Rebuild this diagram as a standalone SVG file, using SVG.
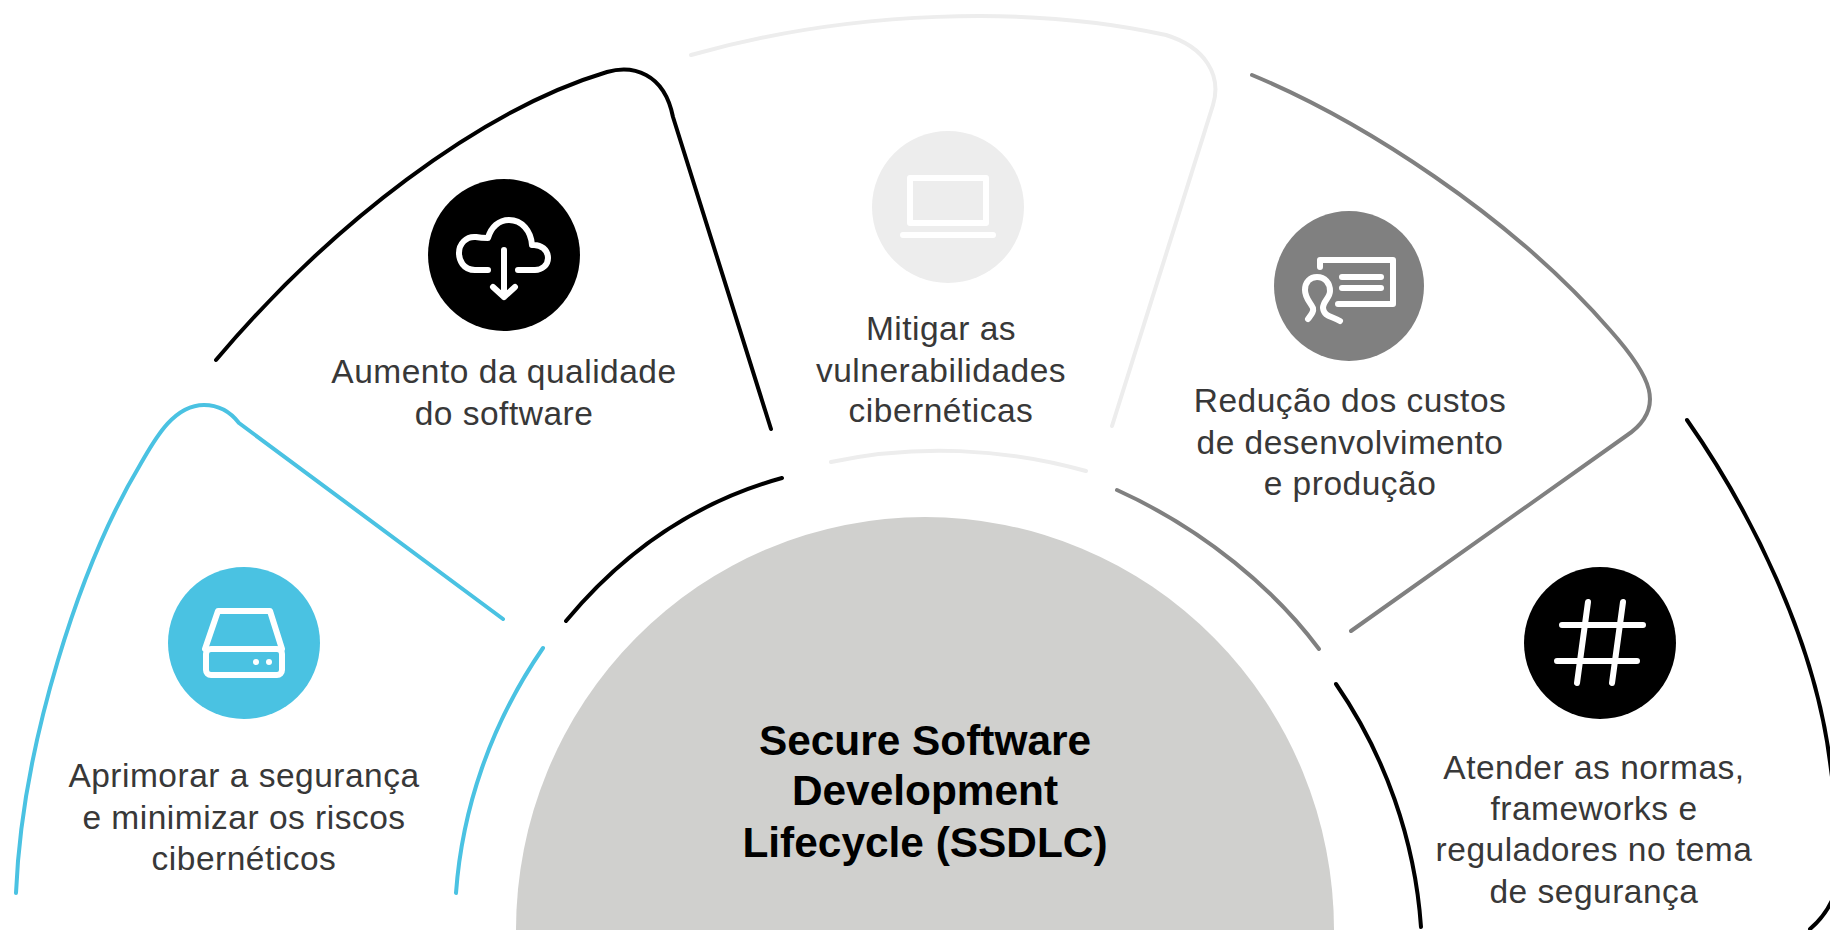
<svg xmlns="http://www.w3.org/2000/svg" width="1830" height="930" viewBox="0 0 1830 930">
<style>
.arc{fill:none;stroke-width:4;stroke-linecap:round;stroke-linejoin:round}
.k{stroke:#000}.b{stroke:#4AC2E2}.g{stroke:#808080}.l{stroke:#EDEDED}
.ic{fill:none;stroke:#fff;stroke-width:6;stroke-linecap:round;stroke-linejoin:round}
text{font-family:"Liberation Sans",Arial,sans-serif;text-anchor:middle}
.t{font-size:33.500px;fill:#383838;letter-spacing:.5px}
.h{font-size:42.400px;font-weight:bold;fill:#000}
</style>
<rect width="1830" height="930" fill="#fff"/>
<g id="connectors">
<path class="arc k" d="M216 360C330 225 480 110 607 72C632 65 664 72 673 117L771 429"/>
<path class="arc k" d="M566 621C625 550 695 502 782 478"/>
<path class="arc l" d="M691 55C850 10 1030 5 1166 35C1205 47 1222 75 1213 105L1112 426"/>
<path class="arc l" d="M831 462C915 444 1005 448 1086 471"/>
<path class="arc g" d="M1252 75C1360 120 1510 215 1610 330C1650 375 1668 408 1626 436L1351 631"/>
<path class="arc g" d="M1117 490C1205 530 1275 590 1319 649"/>
<path class="arc k" d="M1687 420C1750 510 1815 640 1830 762C1840 840 1855 890 1810 929"/>
<path class="arc k" d="M1336 684C1385 755 1415 840 1421 927"/>
<path class="arc b" d="M16 893C22 745 80 565 140 465C153 443 172 405 204 405C220 405 232 414 239 423L503 619"/>
<path class="arc b" d="M543 648C490 725 462 810 456 893"/>
</g>
<g id="center">
<ellipse cx="925" cy="930" rx="409" ry="413" fill="#D0D0CE"/>
<text class="h" x="925" y="755">Secure Software</text>
<text class="h" x="925" y="805">Development</text>
<text class="h" x="925" y="857">Lifecycle (SSDLC)</text>
</g>
<g id="node-security">
<circle cx="244" cy="643" r="76" fill="#4AC2E2"/>
<g class="ic">
<path d="M205 649L218 611H270L282 649"/>
<rect x="206" y="649" width="76" height="26" rx="5"/>
</g>
<circle cx="256" cy="662" r="3" fill="#fff"/><circle cx="269" cy="662" r="3" fill="#fff"/>
<text class="t" x="244" y="787">Aprimorar a segurança</text>
<text class="t" x="244" y="829">e minimizar os riscos</text>
<text class="t" x="244" y="870">cibernéticos</text>
</g>
<g id="node-quality">
<circle cx="504" cy="255" r="76" fill="#000"/>
<path class="ic" d="M488 270H475C463 270 459 260 459 253C459 244 466 236 476 237C481 238 485 238 488 238C491 227 499 220 509 220C522 220 531 231 532 245C541 244 548 250 548 258C548 265 542 270 535 270H518"/>
<path class="ic" d="M504 250V297M493 287L504 297L515 287"/>
<text class="t" x="504" y="383">Aumento da qualidade</text>
<text class="t" x="504" y="425">do software</text>
</g>
<g id="node-vulnerabilities">
<circle cx="948" cy="207" r="76" fill="#EDEDED"/>
<g class="ic">
<rect x="910" y="178" width="76" height="45"/>
<path d="M903 235H993"/>
</g>
<text class="t" x="941" y="340">Mitigar as</text>
<text class="t" x="941" y="382">vulnerabilidades</text>
<text class="t" x="941" y="422">cibernéticas</text>
</g>
<g id="node-costs">
<circle cx="1349" cy="286" r="75" fill="#808080"/>
<g class="ic">
<path d="M1320 267V260H1393V304H1338"/>
<path d="M1342 277H1381M1342 288H1381"/>
<path d="M1308 319C1311 315 1314 312 1313 308C1310 302 1305 298 1305 290C1305 282 1310 277 1317 277C1325 277 1330 283 1330 291C1330 298 1323 301 1323 308C1324 317 1332 316 1340 321"/>
</g>
<text class="t" x="1350" y="412">Redução dos custos</text>
<text class="t" x="1350" y="454">de desenvolvimento</text>
<text class="t" x="1350" y="495">e produção</text>
</g>
<g id="node-compliance">
<circle cx="1600" cy="643" r="76" fill="#000"/>
<path class="ic" d="M1562 625H1643M1557 661H1637M1588 602L1577 683M1623 602L1612 683"/>
<text class="t" x="1594" y="779">Atender as normas,</text>
<text class="t" x="1594" y="820">frameworks e</text>
<text class="t" x="1594" y="861">reguladores no tema</text>
<text class="t" x="1594" y="903">de segurança</text>
</g>
</svg>
